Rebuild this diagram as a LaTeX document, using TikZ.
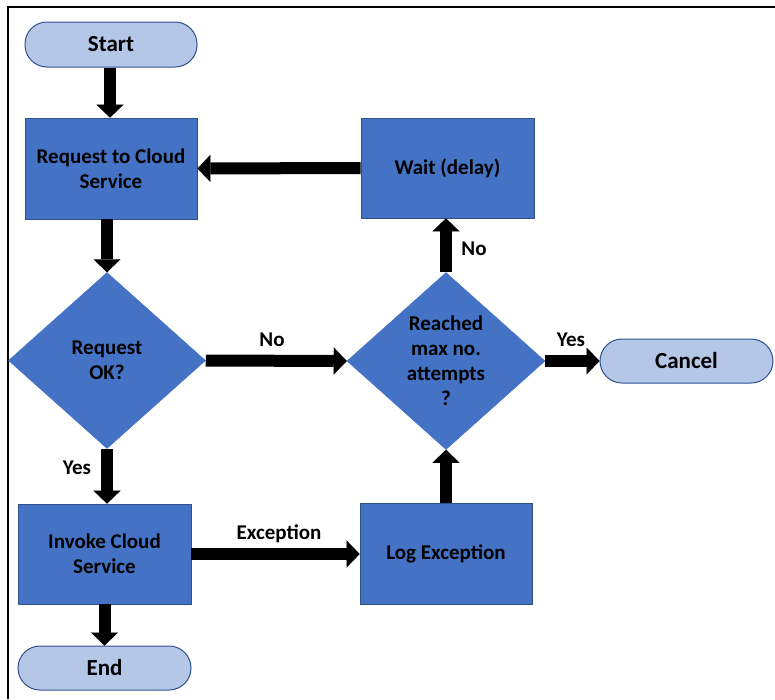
\documentclass[tikz,border=0pt]{standalone}
\usepackage{fontspec}
\setmainfont{Carlito}
\usetikzlibrary{shapes.geometric,arrows.meta}
\definecolor{boxblue}{HTML}{4472C4}
\definecolor{edgeblue}{HTML}{2F528F}
\definecolor{termblue}{HTML}{B4C7E7}
\tikzset{
  txt/.style={font=\bfseries\fontsize{21}{25}\selectfont, text=black, align=center},
  procbox/.style={txt, rectangle, fill=boxblue, draw=edgeblue, line width=0.8pt, inner sep=0pt},
  termbox/.style={rectangle, rounded corners=22pt, fill=termblue, draw=edgeblue, line width=1pt,
    inner sep=0pt, font=\bfseries\fontsize{23}{27}\selectfont, text=black},
  decbox/.style={txt, diamond, fill=boxblue, draw=boxblue, line width=0.5pt, inner sep=0pt},
  flow/.style={line width=12pt, black, -{Triangle[width=27pt,length=13pt,line width=0.01pt]}},
  lbl/.style={font=\bfseries\fontsize{21}{25}\selectfont, text=black, inner sep=0pt}
}
\begin{document}
\begin{tikzpicture}[x=1pt,y=-1pt]
\useasboundingbox (0,0) rectangle (775,699);
% frame
\draw[line width=2.5pt, black] (8,699) -- (8,7) -- (775,7);

\node[termbox, minimum width=172pt, minimum height=45pt] (start) at (111,44.5) {Start};
\node[procbox, minimum width=172pt, minimum height=101pt] (req) at (111,168.5) {Request to Cloud\\Service};
\node[decbox, minimum width=197pt, minimum height=176pt] (ok) at (107,360.5) {Request\\OK?};
\node[procbox, minimum width=173pt, minimum height=100pt] (inv) at (104.5,554) {Invoke Cloud\\Service};
\node[termbox, minimum width=173pt, minimum height=44pt] (end) at (104.5,668) {End};

\node[decbox, minimum width=198pt, minimum height=177pt] (rch) at (446,361) {Reached\\max no.\\attempts\\?};
\node[procbox, minimum width=173pt, minimum height=100pt] (wait) at (447.5,168) {Wait (delay)};
\node[procbox, minimum width=172pt, minimum height=101pt] (log) at (446,553.5) {Log Exception};
\node[termbox, minimum width=173pt, minimum height=44pt] (cancel) at (686.5,361) {Cancel};

% connectors
\draw[flow] (start.south -| 110,0) -- (req.north -| 110,0);
\draw[flow] (ok.north |- req.south) -- (ok.north);
\draw[flow] (ok.south) -- (ok.south |- inv.north);
\draw[flow] (inv.south) -- (end.north);
\draw[flow] (ok.east) -- (rch.west);
\draw[flow] (rch.east) -- (cancel.west);
\draw[flow] (rch.north) -- (rch.north |- wait.south);
\draw[flow] (wait.west) -- (req.east);
\draw[flow] (inv.east) -- (inv.east -| log.west);
\draw[flow] (log.north -| rch.south) -- (rch.south);

% labels
\node[lbl] (lyes1) at (77,468) {Yes};
\node[lbl] (lno1) at (272,340) {No};
\node[lbl] (lyes2) at (571,340) {Yes};
\node[lbl] (lno2) at (474,249) {No};
\node[lbl] (lexc) at (279,534) {Exception};
\end{tikzpicture}
\end{document}
